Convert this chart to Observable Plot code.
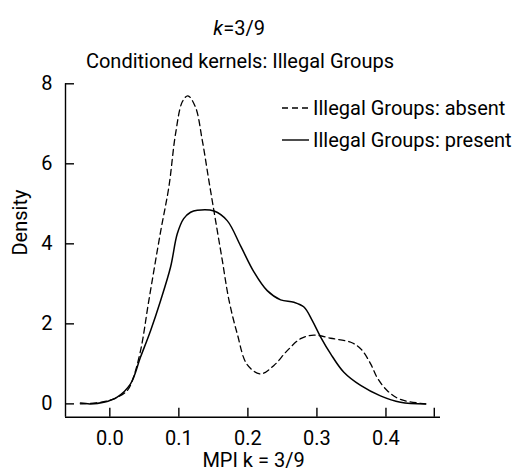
<!DOCTYPE html>
<html>
<head>
<meta charset="utf-8">
<script src="https://cdn.jsdelivr.net/npm/d3@7"></script>
<script src="https://cdn.jsdelivr.net/npm/@observablehq/plot@0.6"></script>
<style>
  body { margin: 0; background: white; }
  #wrap { position: relative; width: 514px; height: 475px; font-family: Roboto, sans-serif; }
  #legend { position: absolute; left: 0; top: 0; pointer-events: none; }
</style>
</head>
<body>
<div id="wrap"></div>
<script>
// ---- data ----
const absentX = [-0.0425, -0.0135, 0.0058, 0.0252, 0.0325, 0.0445, 0.0565, 0.0735, 0.0855, 0.0952, 0.105, 0.113, 0.124, 0.134, 0.1435, 0.153, 0.163, 0.1725, 0.1846, 0.199, 0.2184, 0.2377, 0.257, 0.2764, 0.2957, 0.3199, 0.349, 0.3633, 0.3778, 0.3875, 0.402, 0.421, 0.4575];
const absentY = [0, 0.04, 0.125, 0.33, 0.58, 1.33, 2.58, 4.3, 5.42, 6.75, 7.55, 7.7, 7.42, 6.58, 5.58, 4.6, 3.58, 2.6, 1.75, 0.98, 0.75, 0.96, 1.33, 1.63, 1.72, 1.64, 1.54, 1.38, 1.0, 0.65, 0.33, 0.11, 0];

const presentX = [-0.0425, -0.028, -0.0087, 0.0107, 0.03, 0.0445, 0.059, 0.0735, 0.088, 0.0977, 0.107, 0.117, 0.1267, 0.151, 0.17, 0.1894, 0.2087, 0.228, 0.2474, 0.2667, 0.2812, 0.2933, 0.3054, 0.3199, 0.339, 0.3633, 0.392, 0.421, 0.4575];
const presentY = [0.02, 0.0, 0.04, 0.17, 0.5, 1.17, 1.83, 2.58, 3.42, 4.25, 4.63, 4.79, 4.84, 4.82, 4.58, 3.95, 3.3, 2.83, 2.6, 2.54, 2.42, 2.08, 1.67, 1.25, 0.79, 0.46, 0.2, 0.04, 0];

const xTickValues = [0, 0.1, 0.2, 0.3, 0.4, 0.47];
const xTickLabels = ["0.0", "0.1", "0.2", "0.3", "0.4", ""];
const yTickValues = [0, 2, 4, 6, 8];
const xDomain = [-0.0642, 0.479];
const yDomain = [-0.333, 8];

const titleK = "k";
const titleRest = "=3/9";
const subtitle = "Conditioned kernels: Illegal Groups";
const xLabel = "MPI k = 3/9";
const yLabel = "Density";
const seriesNames = ["Illegal Groups: absent", "Illegal Groups: present"];

const absent = absentX.map((x, i) => ({x, y: absentY[i]}));
const present = presentX.map((x, i) => ({x, y: presentY[i]}));

const FS = 20;
const W = 514, H = 475, mT = 83.3, mB = 58.3, mL = 65, mR = 74;
const TICK = 9; // px, inward
const tickLenX = TICK * (yDomain[1] - yDomain[0]) / (H - mT - mB);
const tickLenY = TICK * (xDomain[1] - xDomain[0]) / (W - mL - mR);

const chart = Plot.plot({
  width: W,
  height: H,
  marginTop: mT,
  marginBottom: mB,
  marginLeft: mL,
  marginRight: mR,
  x: {domain: xDomain},
  y: {domain: yDomain},
  style: {fontFamily: "Roboto, sans-serif", fontSize: FS + "px", color: "black", background: "white", overflow: "visible"},
  marks: [
    Plot.ruleX([xDomain[0]], {stroke: "black", strokeWidth: 1.4}),
    Plot.ruleY([yDomain[0]], {stroke: "black", strokeWidth: 1.4}),
    // inward ticks
    Plot.ruleX(xTickValues, {x: d => d, y1: yDomain[0], y2: yDomain[0] + tickLenX, stroke: "black", strokeWidth: 1.4}),
    Plot.ruleY(yTickValues, {y: d => d, x1: xDomain[0], x2: xDomain[0] + tickLenY, stroke: "black", strokeWidth: 1.4}),
    // tick labels
    Plot.axisX({ticks: xTickValues, tickFormat: d => xTickLabels[xTickValues.indexOf(d)], tickSize: 0, tickPadding: 14, label: null}),
    Plot.axisY({ticks: yTickValues, tickSize: 0, tickPadding: 13, label: null}),
    Plot.line(absent, {x: "x", y: "y", curve: "catmull-rom", stroke: "black", strokeWidth: 1.3, strokeDasharray: "6,4"}),
    Plot.line(present, {x: "x", y: "y", curve: "catmull-rom", stroke: "black", strokeWidth: 1.5}),
    Plot.text([titleK], {text: d => d, frameAnchor: "top", dx: -29.8, dy: -63, textAnchor: "end", fontStyle: "italic"}),
    Plot.text([titleRest], {text: d => d, frameAnchor: "top", dx: -29.8, dy: -63, textAnchor: "start"}),
    Plot.text([subtitle], {text: d => d, frameAnchor: "top", dx: -13, dy: -30}),
    Plot.text([xLabel], {text: d => d, frameAnchor: "bottom", dx: 0.5, dy: 50}),
    Plot.text([yLabel], {text: d => d, frameAnchor: "left", dx: -45, dy: 5, rotate: -90})
  ]
});
const wrap = document.getElementById("wrap");
wrap.appendChild(chart);

// legend overlay
const leg = d3.select(wrap).append("svg").attr("id", "legend").attr("width", W).attr("height", H);
const legRows = [
  {name: seriesNames[0], dash: "6,4", y: 108},
  {name: seriesNames[1], dash: null, y: 140}
];
legRows.forEach(r => {
  leg.append("line").attr("x1", 282).attr("x2", 309).attr("y1", r.y).attr("y2", r.y)
    .attr("stroke", "black").attr("stroke-width", 1.4).attr("stroke-dasharray", r.dash);
  leg.append("text").attr("x", 313).attr("y", r.y).attr("dy", "0.35em")
    .attr("font-family", "Roboto, sans-serif").attr("font-size", FS).text(r.name);
});
</script>
</body>
</html>
